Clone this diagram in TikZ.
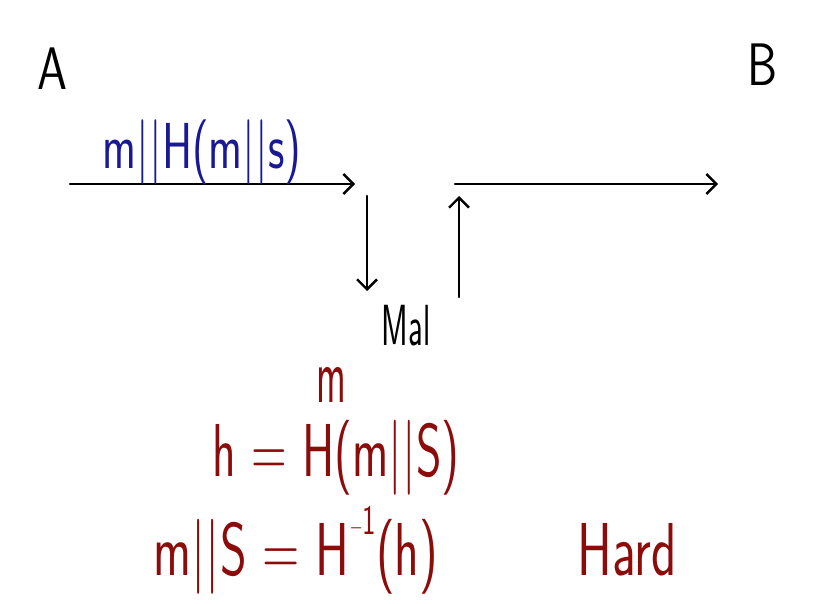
\documentclass[tikz,border=0pt]{standalone}
\usetikzlibrary{arrows.meta}
\definecolor{penblue}{RGB}{25,25,150}
\definecolor{penred}{RGB}{140,12,12}
\tikzset{
    hand/.style={inner sep=0pt, font=\sffamily},
    pen/.style={line width=2.6pt, line cap=round, -{Straight Barb[length=10pt,width=20pt,line width=2.4pt]}}
}
\newcommand{\fs}[1]{\fontsize{#1}{#1}\selectfont}
\newcommand{\inv}{\raisebox{0.55em}{\fs{42}$-$1}}
\begin{document}
\begin{tikzpicture}[x=1pt,y=-1pt]
            \useasboundingbox (0,0) rectangle (820,604);
            %A and B
            \node[hand,font=\sffamily\fs{60},xscale=0.8] (A) at (52,69) {A};
            \node[hand,font=\sffamily\fs{60},xscale=0.8] (B) at (763,65) {B};
            %A to mal
            \coordinate (a0) at (70,184);
            \coordinate (a1) at (355,184);
            \draw[pen] (a0) -- (a1);
            \node[hand,penblue,font=\sffamily\fs{65},xscale=0.7] (msg) at (202,152) {m||H(m||s)};
            %mal
            \coordinate (d0) at (367,196);
            \coordinate (d1) at (367,291);
            \draw[pen] (d0) -- (d1);
            \coordinate (u0) at (459,297);
            \coordinate (u1) at (459,196);
            \draw[pen] (u0) -- (u1);
            \node[hand,font=\sffamily\fs{58},xscale=0.56] (mal) at (406,326) {Mal};
            %mal to B
            \coordinate (b0) at (455,184);
            \coordinate (b1) at (718,184);
            \draw[pen] (b0) -- (b1);
            %hash
            \node[hand,penred,font=\sffamily\fs{80},xscale=0.5] (m) at (331,385) {m};
            \node[hand,penred,font=\sffamily\fs{75},xscale=0.65] (h) at (336,458) {h = H(m||S)};
            \node[hand,penred,font=\sffamily\fs{75},xscale=0.68] (hinv) at (296,550) {m||S = H\inv(h)};
            \node[hand,penred,font=\sffamily\fs{75},xscale=0.7] (hard) at (627,550) {Hard};
\end{tikzpicture}
\end{document}
